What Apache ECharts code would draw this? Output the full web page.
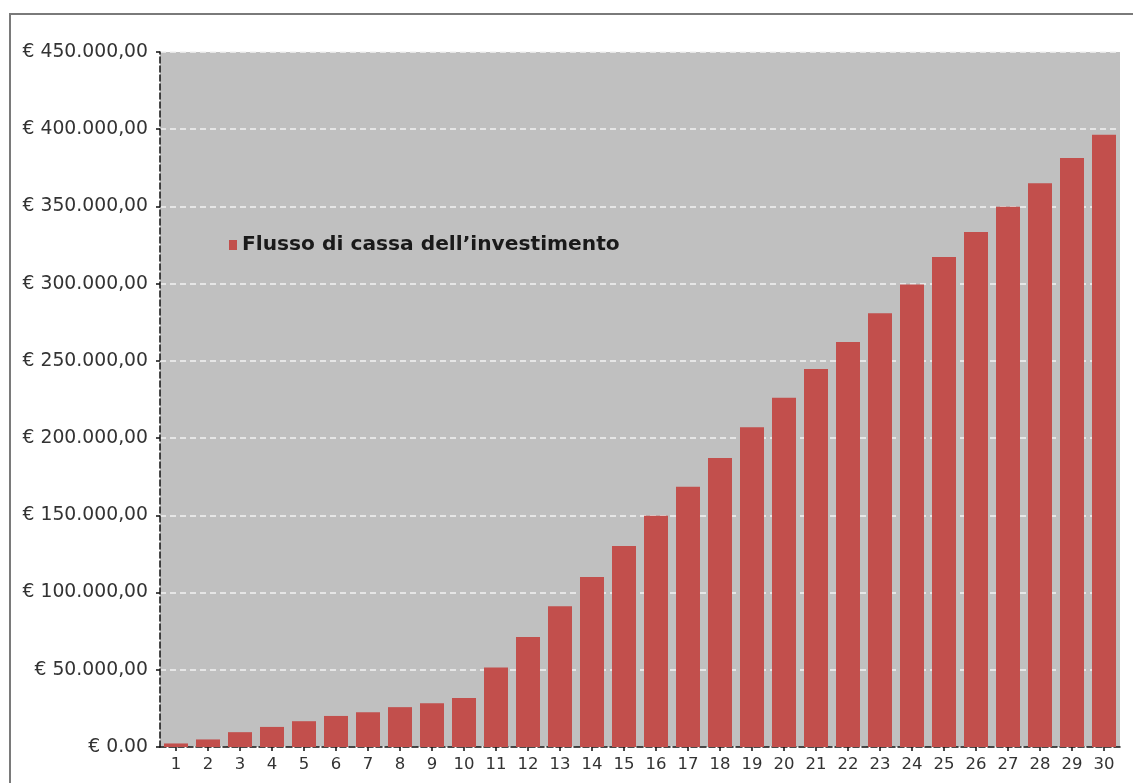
<!DOCTYPE html>
<html>
<head>
<meta charset="utf-8">
<script src="https://cdn.jsdelivr.net/npm/echarts@6/dist/echarts.min.js"></script>
<style>
html,body{margin:0;padding:0;background:#fff;}
#chart{width:1133px;height:783px;}
</style>
</head>
<body>
<div id="chart"></div>
<script>
const categories = ['1','2','3','4','5','6','7','8','9','10','11','12','13','14','15','16','17','18','19','20','21','22','23','24','25','26','27','28','29','30'];
const seriesName = 'Flusso di cassa dell’investimento';
const cashFlow = [2300, 4900, 9600, 13000, 16700, 20100, 22500, 25800, 28400, 31800,
  51500, 71300, 91200, 110000, 130100, 149700, 168500, 187200, 207100, 226100,
  244700, 262200, 280800, 299500, 317200, 333400, 349800, 365000, 381300, 396400];
const yTicks = [0, 50000, 100000, 150000, 200000, 250000, 300000, 350000, 400000, 450000];

function fmtEuro(v) {
  if (v === 0) return '€ 0.00';
  const s = String(Math.round(v)).replace(/\B(?=(\d{3})+(?!\d))/g, '.');
  return '€ ' + s + ',00';
}

const chart = echarts.init(document.getElementById('chart'));
chart.setOption({
  animation: false,
  backgroundColor: '#ffffff',
  graphic: [{
    type: 'rect', z: -10,
    shape: { x: 10, y: 14, width: 1200, height: 900 },
    style: { fill: 'none', stroke: '#7a7a7a', lineWidth: 2 }
  }],
  grid: { left: 160, right: 13, top: 52, bottom: 36, show: true, backgroundColor: '#c0c0c0', borderWidth: 0 },
  legend: {
    show: true, left: 224, top: 230,
    icon: 'rect', itemWidth: 8, itemHeight: 10, itemGap: 6,
    textStyle: { fontFamily: 'DejaVu Sans', fontWeight: 'bold', fontSize: 20.2, color: '#1a1a1a' },
    data: [seriesName]
  },
  xAxis: {
    type: 'category', data: categories, boundaryGap: true,
    axisLine: { show: true, lineStyle: { color: '#111', type: 'dashed', width: 1.5 } },
    axisTick: { show: true, alignWithLabel: true, length: 4, lineStyle: { color: '#111', width: 1.5 } },
    axisLabel: { interval: 0, margin: 9, fontFamily: 'DejaVu Sans', fontSize: 16.5, color: '#333' },
    splitLine: { show: false }
  },
  yAxis: {
    type: 'value', min: 0, max: 450000, interval: 50000,
    axisLine: { show: true, lineStyle: { color: '#111', type: 'dashed', width: 1.5 } },
    axisTick: { show: true, length: 4, lineStyle: { color: '#111', width: 1.5 } },
    axisLabel: { margin: 12, fontFamily: 'DejaVu Sans', fontSize: 18.8, color: '#333', formatter: fmtEuro, padding: [0, 0, 6, 0] },
    splitLine: { show: true, lineStyle: { color: '#f2f2f2', type: [6, 4], width: 1.5 } }
  },
  series: [{
    name: seriesName, type: 'bar', data: cashFlow,
    barCategoryGap: '25%',
    itemStyle: { color: '#c24f4c' }
  }]
});
</script>
</body>
</html>
